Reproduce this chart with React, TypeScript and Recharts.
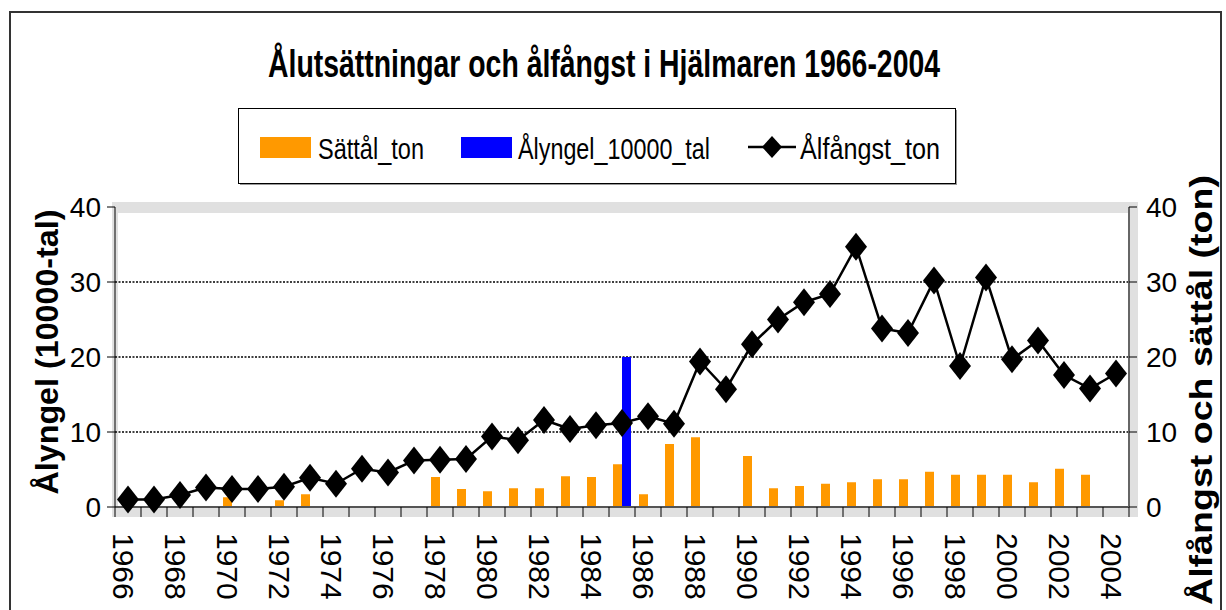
import React from "react";
import { Bar, CartesianGrid, ComposedChart, Line, XAxis, YAxis } from "recharts";

const years = [
  "1966", "1967", "1968", "1969", "1970", "1971", "1972", "1973", "1974", "1975",
  "1976", "1977", "1978", "1979", "1980", "1981", "1982", "1983", "1984", "1985",
  "1986", "1987", "1988", "1989", "1990", "1991", "1992", "1993", "1994", "1995",
  "1996", "1997", "1998", "1999", "2000", "2001", "2002", "2003", "2004"
];

// Sättål (ton)
const sattalTon = [
  null, null, null, null, 1.3, null, 0.9, 1.7, null, null,
  null, null, 4.0, 2.4, 2.1, 2.5, 2.5, 4.1, 4.0, 5.7,
  1.7, 8.4, 9.3, null, 6.8, 2.5, 2.8, 3.1, 3.3, 3.7,
  3.7, 4.7, 4.3, 4.3, 4.3, 3.3, 5.1, 4.3, null
];

// Ålyngel (10000-tal)
const alyngel10000 = [
  null, null, null, null, null, null, null, null, null, null,
  null, null, null, null, null, null, null, null, null, 20,
  null, null, null, null, null, null, null, null, null, null,
  null, null, null, null, null, null, null, null, null
];

// Ålfångst (ton)
const alfangstTon = [
  1.0, 1.0, 1.6, 2.6, 2.4, 2.4, 2.7, 3.9, 3.1, 5.1,
  4.6, 6.2, 6.3, 6.4, 9.4, 8.9, 11.6, 10.4, 10.9, 11.2,
  12.1, 11.1, 19.4, 15.7, 21.7, 25.0, 27.3, 28.4, 34.7, 23.8,
  23.2, 30.2, 18.8, 30.6, 19.7, 22.2, 17.6, 15.8, 17.8
];

const yTicks = [0, 10, 20, 30, 40];
const gridValues = [10, 20, 30];

const TITLE = "Ålutsättningar och ålfångst i Hjälmaren 1966-2004";
const LEFT_TITLE = "Ålyngel (10000-tal)";
const RIGHT_TITLE = "Ålfångst och sättål (ton)";
const NAMES = { sattal: "Sättål_ton", alyngel: "Ålyngel_10000_tal", alfangst: "Ålfångst_ton" };

const W = 1226;
const H = 610;
const PLOT = { left: 115, right: 1129, top: 207, bottom: 507 };
const STEP = (PLOT.right - PLOT.left) / years.length;
const FONT = "'Liberation Sans', Arial, sans-serif";
const ORANGE = "#FF9900";
const BLUE = "#0000FF";

const data = years.map((year, i) => ({
  year,
  sattal: sattalTon[i],
  alyngel: alyngel10000[i],
  alfangst: alfangstTon[i]
}));

function renderDiamond(props: any) {
  const { cx, cy, index } = props;
  if (cx == null || cy == null) return <g key={index} />;
  return (
    <polygon
      key={index}
      points={`${cx},${cy - 14} ${cx + 11},${cy} ${cx},${cy + 14} ${cx - 11},${cy}`}
      fill="#000"
    />
  );
}

function YearTick(props: any) {
  const { x, payload, index } = props;
  const half = STEP / 2;
  const base = PLOT.bottom;
  const ty = base + 26;
  return (
    <g>
      <line x1={x - half} x2={x - half} y1={base} y2={base + 10} stroke="#000" />
      {index === years.length - 1 && (
        <line x1={x + half} x2={x + half} y1={base} y2={base + 10} stroke="#000" />
      )}
      {index % 2 === 0 && (
        <text
          x={x}
          y={ty}
          dy={5}
          transform={`rotate(90 ${x} ${ty})`}
          textAnchor="start"
          dominantBaseline="central"
          fontSize={30}
          fontFamily={FONT}
          fill="#000"
        >
          {payload.value}
        </text>
      )}
    </g>
  );
}

function Overlay() {
  const textProps = { fontFamily: FONT, fill: "#000" };
  return (
    <svg width={W} height={H} style={{ position: "absolute", left: 0, top: 0, pointerEvents: "none" }}>
      <rect x={10} y={12} width={1211} height={640} fill="none" stroke="#333" strokeWidth={2} />
      <text x={268} y={77} fontSize={38} fontWeight="bold" textLength={672} lengthAdjust="spacingAndGlyphs" {...textProps}>
        {TITLE}
      </text>

      <rect x={240} y={110} width={717} height={75} fill="#999" />
      <rect x={238.5} y={108.5} width={717} height={75} fill="#fff" stroke="#000" />
      <rect x={260} y={137} width={51} height={21} fill={ORANGE} />
      <text x={318} y={159} fontSize={30} textLength={106} lengthAdjust="spacingAndGlyphs" {...textProps}>
        {NAMES.sattal}
      </text>
      <rect x={461} y={137} width={51} height={21} fill={BLUE} />
      <text x={518} y={159} fontSize={30} textLength={192} lengthAdjust="spacingAndGlyphs" {...textProps}>
        {NAMES.alyngel}
      </text>
      <line x1={748} x2={796} y1={147} y2={147} stroke="#000" strokeWidth={2.5} />
      <polygon points="772,136 782,147 772,158 762,147" fill="#000" />
      <text x={800} y={159} fontSize={30} textLength={140} lengthAdjust="spacingAndGlyphs" {...textProps}>
        {NAMES.alfangst}
      </text>

      <text
        transform="translate(47 352) rotate(-90)"
        textAnchor="middle"
        dominantBaseline="central"
        fontSize={31}
        fontWeight="bold"
        textLength={285}
        lengthAdjust="spacingAndGlyphs"
        {...textProps}
      >
        {LEFT_TITLE}
      </text>
      <text
        transform="translate(1201 390) rotate(-90)"
        textAnchor="middle"
        dominantBaseline="central"
        fontSize={31}
        fontWeight="bold"
        textLength={430}
        lengthAdjust="spacingAndGlyphs"
        {...textProps}
      >
        {RIGHT_TITLE}
      </text>
    </svg>
  );
}

export default function App() {
  const tickStyle = { fontSize: 28, fontFamily: FONT, fill: "#000" };
  return (
    <div style={{ position: "absolute", left: 0, top: 0, width: W, height: H, background: "#fff", overflow: "hidden" }}>
      <div
        style={{
          position: "absolute",
          left: PLOT.left - 3,
          top: PLOT.top - 5,
          width: PLOT.right - PLOT.left + 4 - 6,
          height: PLOT.bottom - PLOT.top + 10 - 16,
          borderStyle: "solid",
          borderColor: "#e0e0e0",
          borderWidth: "11px 8px 10px 6px"
        }}
      />
      <ComposedChart
        width={W}
        height={H}
        data={data}
        margin={{ top: PLOT.top, right: 0, bottom: 0, left: 0 }}
        barGap={0}
        style={{ position: "absolute", left: 0, top: 0 }}
      >
        <CartesianGrid
          yAxisId="left"
          vertical={false}
          horizontalValues={gridValues}
          stroke="#000"
          strokeWidth={1.5}
          strokeDasharray="2 1.5"
        />
        <XAxis
          dataKey="year"
          interval={0}
          height={H - PLOT.bottom}
          tick={<YearTick />}
          tickLine={false}
          axisLine={{ stroke: "#555", strokeWidth: 2 }}
        />
        <YAxis
          yAxisId="left"
          domain={[0, 40]}
          ticks={yTicks}
          width={PLOT.left}
          tick={tickStyle}
          tickSize={8}
          tickMargin={6}
          axisLine={{ stroke: "#000" }}
          tickLine={{ stroke: "#000" }}
        />
        <YAxis
          yAxisId="right"
          orientation="right"
          domain={[0, 40]}
          ticks={yTicks}
          width={W - PLOT.right}
          tick={{ ...tickStyle, textAnchor: "start" }}
          tickSize={8}
          tickMargin={9}
          axisLine={{ stroke: "#666", strokeWidth: 2 }}
          tickLine={{ stroke: "#000" }}
        />
        <Bar dataKey="sattal" name={NAMES.sattal} yAxisId="right" fill={ORANGE} barSize={9} isAnimationActive={false} />
        <Bar dataKey="alyngel" name={NAMES.alyngel} yAxisId="left" fill={BLUE} barSize={9} isAnimationActive={false} />
        <Line
          dataKey="alfangst"
          name={NAMES.alfangst}
          yAxisId="right"
          type="linear"
          stroke="#000"
          strokeWidth={2.5}
          dot={renderDiamond}
          activeDot={false}
          isAnimationActive={false}
        />
      </ComposedChart>
      <Overlay />
    </div>
  );
}
